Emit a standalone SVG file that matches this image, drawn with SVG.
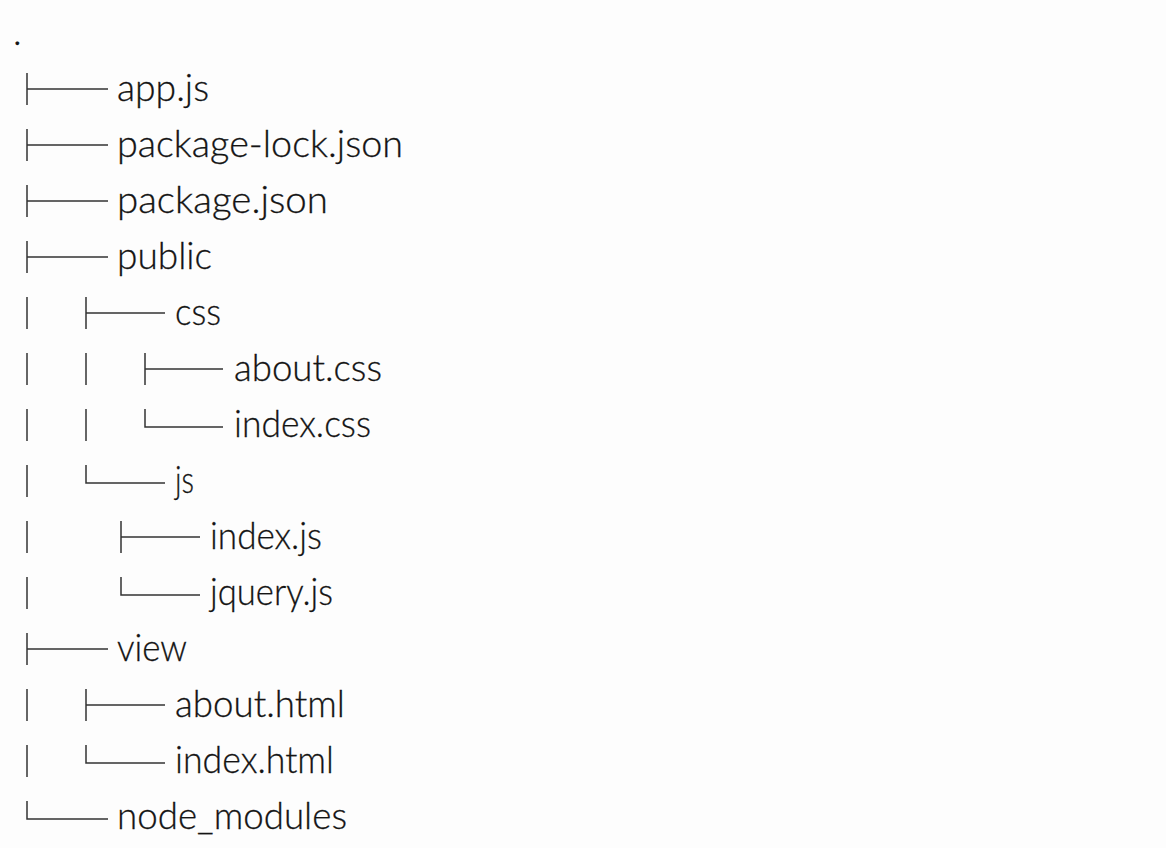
<svg xmlns="http://www.w3.org/2000/svg" width="1166" height="848" viewBox="0 0 1166 848">
<style>
.t{font-family:"Lato","Liberation Sans",sans-serif;font-size:37px;font-weight:300;fill:#141414;stroke:#141414;stroke-width:0.3}
.c path{stroke:#333;stroke-width:1.5;fill:none}
</style>
<rect width="1166" height="848" fill="#fdfdfd"/>
<g id="connectors" class="c">
<!-- app.js -->
<path d="M27 73V105M27 89H108"/>
<!-- package-lock.json -->
<path d="M27 129V161M27 145H108"/>
<!-- package.json -->
<path d="M27 185V217M27 201H108"/>
<!-- public -->
<path d="M27 241V273M27 257H108"/>
<!-- css -->
<path d="M27 297V329"/>
<path d="M86 297V329M86 313H165"/>
<!-- about.css -->
<path d="M27 353V385"/>
<path d="M86 353V385"/>
<path d="M145 353V385M145 369H223"/>
<!-- index.css -->
<path d="M27 409V441"/>
<path d="M86 409V441"/>
<path d="M145 409V427H223"/>
<!-- js -->
<path d="M27 465V497"/>
<path d="M86 465V483H165"/>
<!-- index.js -->
<path d="M27 521V553"/>
<path d="M121 521V553M121 537H200"/>
<!-- jquery.js -->
<path d="M27 577V609"/>
<path d="M121 577V595H200"/>
<!-- view -->
<path d="M27 633V665M27 649H108"/>
<!-- about.html -->
<path d="M27 689V721"/>
<path d="M86 689V721M86 705H165"/>
<!-- index.html -->
<path d="M27 745V777"/>
<path d="M86 745V763H165"/>
<!-- node_modules -->
<path d="M27 801V819H108"/>
</g>
<g id="root"><text class="t" x="13" y="45">.</text></g>
<g id="app-js"><text class="t" x="117" y="101" textLength="92" lengthAdjust="spacingAndGlyphs">app.js</text></g>
<g id="package-lock-json"><text class="t" x="117" y="157" textLength="286" lengthAdjust="spacingAndGlyphs">package-lock.json</text></g>
<g id="package-json"><text class="t" x="117" y="213" textLength="211" lengthAdjust="spacingAndGlyphs">package.json</text></g>
<g id="public"><text class="t" x="117" y="269" textLength="95" lengthAdjust="spacingAndGlyphs">public</text></g>
<g id="css"><text class="t" x="175" y="325" textLength="46" lengthAdjust="spacingAndGlyphs">css</text></g>
<g id="about-css"><text class="t" x="234" y="381" textLength="148" lengthAdjust="spacingAndGlyphs">about.css</text></g>
<g id="index-css"><text class="t" x="234" y="437" textLength="137" lengthAdjust="spacingAndGlyphs">index.css</text></g>
<g id="js"><text class="t" x="175" y="493" textLength="19" lengthAdjust="spacingAndGlyphs">js</text></g>
<g id="index-js"><text class="t" x="210" y="549" textLength="112" lengthAdjust="spacingAndGlyphs">index.js</text></g>
<g id="jquery-js"><text class="t" x="210" y="605" textLength="123" lengthAdjust="spacingAndGlyphs">jquery.js</text></g>
<g id="view"><text class="t" x="117" y="661" textLength="70" lengthAdjust="spacingAndGlyphs">view</text></g>
<g id="about-html"><text class="t" x="175" y="717" textLength="170" lengthAdjust="spacingAndGlyphs">about.html</text></g>
<g id="index-html"><text class="t" x="175" y="773" textLength="159" lengthAdjust="spacingAndGlyphs">index.html</text></g>
<g id="node-modules"><text class="t" x="117" y="829" textLength="230" lengthAdjust="spacingAndGlyphs">node_modules</text></g>
</svg>
